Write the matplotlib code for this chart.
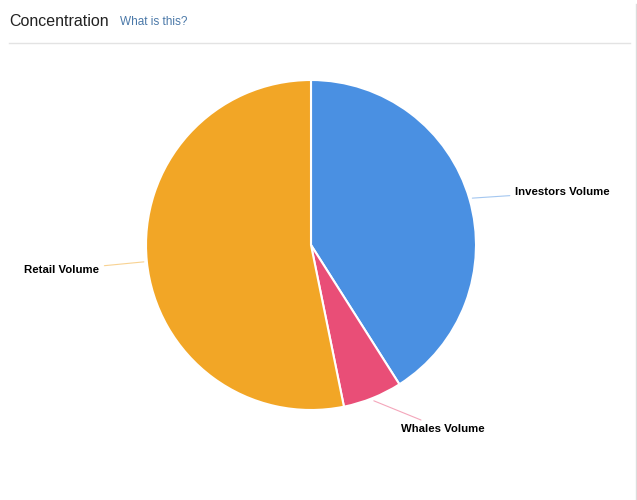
import matplotlib.pyplot as plt
import numpy as np

labels = ["Investors Volume", "Whales Volume", "Retail Volume"]
shares = [41.0, 5.8, 53.2]
colors = ["#4a90e2", "#e94e77", "#f2a626"]

# label offsets (pixels) from wedge edge, layout only
offsets = [(43, 6), (27, -28), (-120, -8)]


def main():
    fig = plt.figure(figsize=(6.37, 5), dpi=100)
    ax = fig.add_axes([0, 0, 1, 1])

    cx, cy, r = 311, 255, 165
    wedges, _ = ax.pie(shares, colors=colors, startangle=90, counterclock=False,
                       center=(cx, cy), radius=r, frame=True,
                       wedgeprops=dict(edgecolor="white", linewidth=1.5))
    ax.set_xlim(0, 637)
    ax.set_ylim(0, 500)
    ax.set_aspect("equal")
    ax.axis("off")

    for w, lab, col, off in zip(wedges, labels, colors, offsets):
        mid = np.deg2rad((w.theta1 + w.theta2) / 2)
        ex = cx + (r + 3) * np.cos(mid)
        ey = cy + (r + 3) * np.sin(mid)
        ax.annotate(lab, xy=(ex, ey), xytext=(ex + off[0], ey + off[1]),
                    fontsize=8.2, fontweight="bold", family="Liberation Sans",
                    ha="left", va="center", color="black",
                    arrowprops=dict(arrowstyle="-", color=col, lw=0.8, alpha=0.5,
                                    shrinkA=2, shrinkB=0))

    fig.text(9 / 637, 1 - 21 / 500, "Concentration", fontsize=11.5,
             family="Liberation Sans", color="#222222", va="center")
    fig.text(120 / 637, 1 - 22 / 500, "What is this?", fontsize=8.5,
             family="Liberation Sans", color="#4a78a8", va="center")
    ax.plot([9, 630], [457, 457], color="#e3e3e3", lw=1)
    ax.plot([635.5, 635.5], [0, 496], color="#dcdcdc", lw=1)

    fig.savefig("out.png", dpi=100)


if __name__ == "__main__":
    main()
